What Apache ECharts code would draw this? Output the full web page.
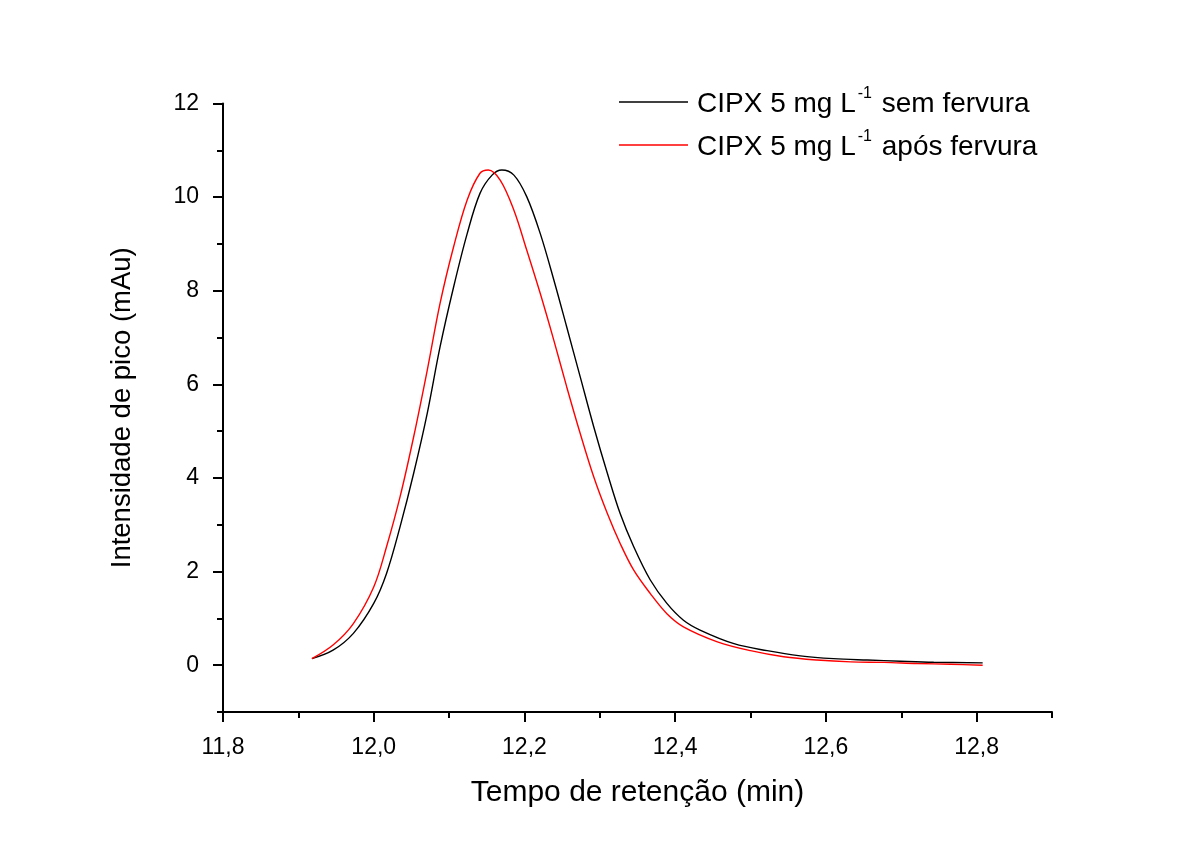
<!DOCTYPE html>
<html><head><meta charset="utf-8">
<script src="https://cdn.jsdelivr.net/npm/echarts@6/dist/echarts.min.js"></script>
<style>html,body{margin:0;padding:0;background:#fff}#c{width:1202px;height:843px}</style>
</head><body><div id="c"></div>
<script>
const seriesNames = ['sem', 'apos'];
const legendParts = {
  sem: ['CIPX 5 mg L', '-1', ' sem fervura'],
  apos: ['CIPX 5 mg L', '-1', ' após fervura']
};
const semFervura = [[11.918,0.14],[11.946,0.32],[11.973,0.68],[12.000,1.32],[12.017,1.96],[12.035,2.96],[12.053,4.10],[12.071,5.38],[12.088,6.80],[12.106,8.08],[12.124,9.22],[12.141,10.08],[12.157,10.47],[12.170,10.58],[12.186,10.47],[12.203,10.01],[12.221,9.22],[12.239,8.23],[12.256,7.23],[12.274,6.16],[12.292,5.09],[12.310,4.10],[12.327,3.24],[12.345,2.53],[12.367,1.82],[12.389,1.32],[12.411,0.96],[12.433,0.75],[12.478,0.46],[12.522,0.31],[12.566,0.20],[12.610,0.14],[12.655,0.11],[12.699,0.085],[12.743,0.064],[12.808,0.05]];
const aposFervura = [[11.918,0.14],[11.946,0.43],[11.973,0.89],[12.000,1.67],[12.017,2.53],[12.035,3.60],[12.053,4.88],[12.071,6.30],[12.088,7.73],[12.106,8.94],[12.124,9.94],[12.141,10.51],[12.152,10.58],[12.168,10.36],[12.186,9.72],[12.203,8.87],[12.221,7.94],[12.239,6.94],[12.256,5.95],[12.274,4.95],[12.292,4.02],[12.310,3.24],[12.327,2.60],[12.345,2.03],[12.367,1.53],[12.389,1.10],[12.411,0.82],[12.456,0.50],[12.500,0.31],[12.544,0.18],[12.588,0.11],[12.633,0.07],[12.677,0.06],[12.721,0.035],[12.765,0.02],[12.808,0.0]];
const xMajorTicks = [11.8, 12.0, 12.2, 12.4, 12.6, 12.8];
const xMinorTicks = [11.9, 12.1, 12.3, 12.5, 12.7, 12.9];
const yMajorTicks = [0, 2, 4, 6, 8, 10, 12];
const yMinorTicks = [-1, 1, 3, 5, 7, 9, 11];
const xTitle = 'Tempo de retenção (min)';
const yTitle = 'Intensidade de pico (mAu)';

const FONT = "'Liberation Sans', Arial, sans-serif";
const chart = echarts.init(document.getElementById('c'), null, {renderer: 'canvas'});
const axisLineStyle = {color: '#000', width: 2};
const grid = {left: 223, right: 150, top: 103.5, bottom: 131, containLabel: false};

const baseX = {
  type: 'value', min: 11.8, max: 12.9, position: 'bottom',
  splitLine: {show: false}
};
const baseY = {
  type: 'value', min: -1, max: 12, position: 'left',
  splitLine: {show: false}
};

chart.setOption({
  backgroundColor: '#fff',
  animation: false,
  grid: grid,
  legend: {
    orient: 'vertical', left: 614, top: 81,
    icon: 'rect', itemWidth: 69, itemHeight: 1.4, itemGap: 11,
    data: seriesNames,
    formatter: function (n) {
      const p = legendParts[n];
      return '{t|' + p[0] + '}{s|' + p[1] + '}{t|' + p[2] + '}';
    },
    textStyle: {
      padding: [0, 0, 0, 4],
      rich: {
        t: {fontSize: 28, fontFamily: FONT, color: '#000', lineHeight: 32, verticalAlign: 'bottom'},
        s: {fontSize: 16, fontFamily: FONT, color: '#000', lineHeight: 32, verticalAlign: 'top', padding: [0, 2, 0, 2]}
      }
    }
  },
  xAxis: [
    Object.assign({}, baseX, {
      name: xTitle, nameLocation: 'middle', nameGap: 66,
      nameTextStyle: {fontSize: 30, fontFamily: FONT, color: '#000', verticalAlign: 'top'},
      axisLine: {show: true, onZero: false, lineStyle: axisLineStyle},
      axisTick: {show: true, length: 10, lineStyle: axisLineStyle, customValues: xMajorTicks},
      axisLabel: {show: true, margin: 24, fontSize: 23, fontFamily: FONT, color: '#000',
        customValues: xMajorTicks,
        formatter: v => v.toFixed(1).replace('.', ',')}
    }),
    Object.assign({}, baseX, {
      axisLine: {show: false, onZero: false},
      axisTick: {show: true, length: 6, lineStyle: axisLineStyle, customValues: xMinorTicks},
      axisLabel: {show: false}
    })
  ],
  yAxis: [
    Object.assign({}, baseY, {
      name: yTitle, nameLocation: 'middle', nameGap: 87, nameRotate: 90,
      nameTextStyle: {fontSize: 27.5, fontFamily: FONT, color: '#000'},
      axisLine: {show: true, onZero: false, lineStyle: axisLineStyle},
      axisTick: {show: true, length: 10, lineStyle: axisLineStyle, customValues: yMajorTicks},
      axisLabel: {show: true, margin: 24, fontSize: 23, fontFamily: FONT, color: '#000',
        customValues: yMajorTicks, formatter: v => String(v)}
    }),
    Object.assign({}, baseY, {
      axisLine: {show: false, onZero: false},
      axisTick: {show: true, length: 6, lineStyle: axisLineStyle, customValues: yMinorTicks},
      axisLabel: {show: false}
    })
  ],
  series: [
    {name: 'sem', type: 'line', data: semFervura, smooth: 0.35, symbol: 'none',
      lineStyle: {color: '#000', width: 1.4}, itemStyle: {color: '#000'}},
    {name: 'apos', type: 'line', data: aposFervura, smooth: 0.35, symbol: 'none',
      lineStyle: {color: '#ff0000', width: 1.4}, itemStyle: {color: '#ff0000'}}
  ]
});
</script>
</body></html>
